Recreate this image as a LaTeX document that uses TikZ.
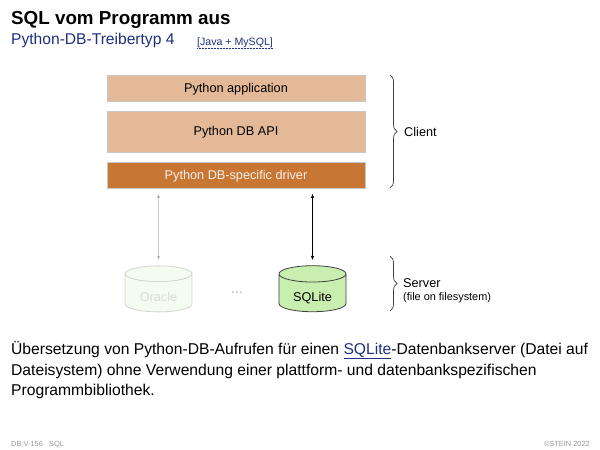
\documentclass[tikz,border=0pt]{standalone}
\usepackage{fontspec}
\setmainfont{Liberation Sans}
\usetikzlibrary{calc}
\usetikzlibrary{shapes.geometric}
\usetikzlibrary{decorations.pathreplacing}
\usetikzlibrary{arrows.meta}
\definecolor{paleorange}{HTML}{E3B997}
\definecolor{darkorange}{HTML}{C87633}
\definecolor{palegreen}{HTML}{C8EFB0}
\definecolor{linkblue}{HTML}{1F2F7F}
\newcommand{\fsize}[1]{\fontsize{#1}{#1}\selectfont}
\tikzset{
	layer/.style = {draw = black!22, line width = 0.9pt, fill = paleorange, inner sep = 0pt, text = black, text height = 10pt, text depth = 2pt, font = \fsize{12.7}},
	dbase/.style = {cylinder, shape border rotate = 90, aspect = 0.42, draw = black!75, line width = 0.8pt, fill = palegreen, minimum width = 67pt, minimum height = 46pt, inner sep = 0pt, text height = 19pt, text depth = 2pt, font = \fsize{12.7}},
	link/.style = {arrows = {Latex[length = 4.5pt, width = 3.5pt]-Latex[length = 4.5pt, width = 3.5pt]}, line width = 0.8pt},
	curly/.style = {decorate, decoration = {brace, amplitude = 7pt}, draw = black!75, line width = 0.7pt},
	side/.style = {anchor = west, inner sep = 0pt, font = \fsize{12.7}},
	foot/.style = {inner sep = 0pt, text = black!40, font = \fsize{7.4}}
}

\begin{document}
\begin{tikzpicture}[x = 1pt, y = -1pt]
	\useasboundingbox[fill = white] (0, 0) rectangle (600, 450);

	\node[anchor = base west, inner sep = 0pt, font = \fsize{18.8}\bfseries] (title) at (11, 24.5) {SQL vom Programm aus};
	\node[anchor = base west, inner sep = 0pt, text = linkblue, font = \fsize{15.6}] (subtitle) at (11, 44) {Python-DB-Treibertyp 4};
	\node[anchor = base west, inner sep = 0pt, text = linkblue, font = \fsize{10.6}] (ref) at (197, 45) {[Java + MySQL]};
	\draw[linkblue, densely dotted, line width = 0.5pt] ($(ref.south west) + (0, 1)$) -- ($(ref.south east) + (0, 1)$);

	\node[layer, minimum width = 258pt, minimum height = 26pt] (app) at (236, 88) {Python application};
	\node[layer, minimum width = 258pt, minimum height = 41pt] (api) at (236, 131.5) {Python DB API};
	\node[layer, fill = darkorange, text = white!90!darkorange, minimum width = 258pt, minimum height = 26pt] (driver) at (236, 175) {Python DB-specific driver};

	\begin{scope}[opacity = 0.2]
		\node[dbase, text = black!60] (oracle) at (158.5, 293) {Oracle};
		\draw[link] ($(driver.south -| oracle.north) + (0, 5)$) -- ($(oracle.north) + (0, -5)$);
	\end{scope}
	\node[dbase] (sqlite) at (312.5, 293) {SQLite};
	\draw[link] ($(driver.south -| sqlite.north) + (0, 5)$) -- ($(sqlite.north) + (0, -5)$);
	\node[inner sep = 0pt, text = black!30, font = \fsize{15}] (dots) at (237, 293) {...};

	\coordinate (ctop) at (390, 75);
	\coordinate (cbot) at (390, 188);
	\coordinate (stop) at (390, 256);
	\coordinate (sbot) at (390, 311);
	\draw[curly] (ctop) -- (cbot);
	\draw[curly] (stop) -- (sbot);
	\node[side] (client) at (404, 132) {Client};
	\node[side] (server) at (403, 283) {Server};
	\node[side, font = \fsize{10.9}] (filesys) at (403, 297.5) {(file on filesystem)};

	\node[anchor = north west, inner sep = 0pt, align = left, font = \fontsize{15.65}{20.7}\selectfont] (body) at (11, 341)
	{Übersetzung von Python-DB-Aufrufen für einen {\color{linkblue}\underline{SQLite}}-Datenbankserver (Datei auf\\
	Dateisystem) ohne Verwendung einer plattform- und datenbankspezifischen\\
	Programmbibliothek.};

	\node[foot, anchor = base west] (page) at (11, 446) {DB:V-156};
	\node[foot, anchor = base west] (chapter) at (49, 446) {SQL};
	\node[foot, anchor = base east] (copy) at (590, 446) {©STEIN 2022};
\end{tikzpicture}
\end{document}
